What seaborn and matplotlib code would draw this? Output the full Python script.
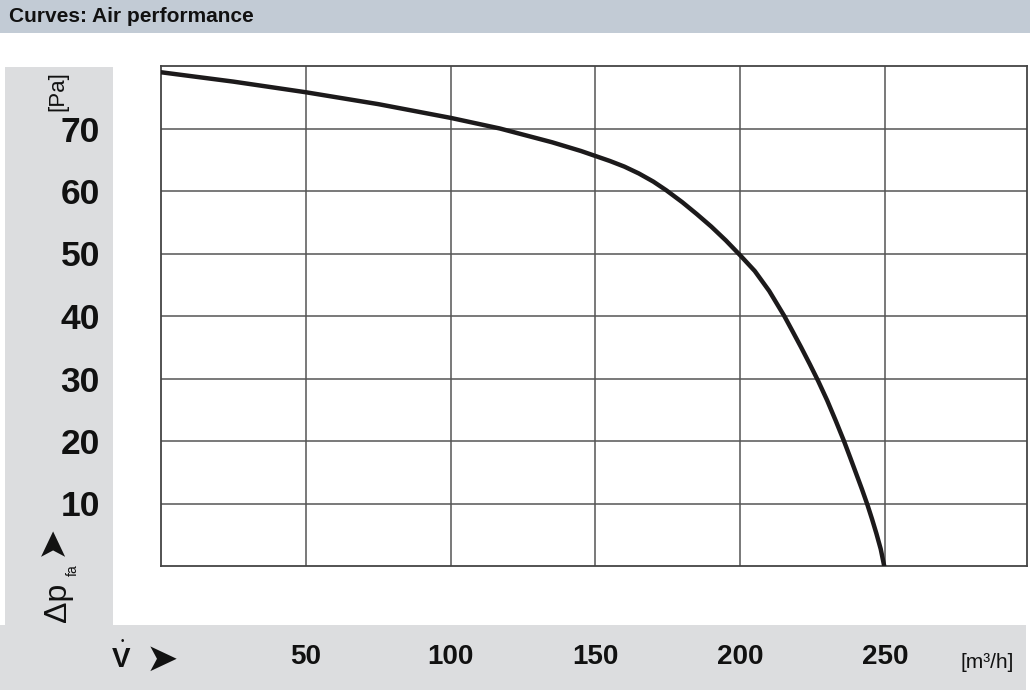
import matplotlib
matplotlib.use("Agg")
import matplotlib.pyplot as plt
import seaborn as sns
import pandas as pd
from matplotlib.patches import Rectangle

# values
flow = [0, 25, 50, 75, 100, 117, 135, 140, 145, 150, 155, 160, 165, 170, 174.5,
        180, 185, 190, 195, 200, 205, 210, 215.2, 218, 221, 224, 226.9, 230, 233,
        235.8, 238, 240, 242, 243.9, 245.5, 247, 248.5, 249.7]
pressure = [79.0, 77.5, 75.8, 73.9, 71.7, 70.0, 67.8, 67.1, 66.4, 65.6, 64.8, 63.9,
            62.8, 61.5, 60.1, 58.2, 56.3, 54.3, 52.1, 49.7, 47.2, 44.0, 40.0, 37.6,
            35.0, 32.3, 29.6, 26.5, 23.2, 20.0, 17.3, 14.8, 12.3, 9.8, 7.5, 5.2, 2.7, 0.0]
x_ticks = [50, 100, 150, 200, 250]
y_ticks = [10, 20, 30, 40, 50, 60, 70]
title = "Curves: Air performance"

W, H = 1030, 694

sns.set_theme(style="white")
plt.rcParams['font.family'] = ['Liberation Sans', 'DejaVu Sans']
plt.rcParams['text.color'] = '#111111'

fig = plt.figure(figsize=(W / 100, H / 100), dpi=100)
fig.patch.set_facecolor("white")


def fx(px):
    return px / W


def fy(py):
    return 1 - py / H


# background bands
for (x0, y0, x1, y1, c) in [(0, 0, 1030, 33, "#c2cbd5"),
                            (5, 67, 113, 690, "#dcdddf"),
                            (0, 625, 1026, 690, "#dcdddf")]:
    fig.patches.append(Rectangle((fx(x0), fy(y1)), fx(x1 - x0), (y1 - y0) / H,
                                 transform=fig.transFigure, facecolor=c,
                                 edgecolor="none", zorder=-10))

fig.text(fx(9), fy(17), title, fontsize=15, fontweight="bold", va="center", ha="left")

ax = fig.add_axes([fx(161), fy(566), fx(1027 - 161), (566 - 66) / H])
df = pd.DataFrame({"flow": flow, "pressure": pressure})
sns.lineplot(data=df, x="flow", y="pressure", sort=False, color="#1c1a1b",
             linewidth=3.2, ax=ax, zorder=3)

ax.set_xlim(0, 299)
ax.set_ylim(0, 80)
ax.set_xticks(x_ticks)
ax.set_yticks(y_ticks)
ax.set_xticklabels([str(v) for v in x_ticks], fontsize=20, fontweight="bold", color="#111111")
ax.set_yticklabels([str(v) for v in y_ticks], fontsize=25.5, fontweight="bold", color="#111111")
ax.tick_params(axis="x", length=0, pad=56)
ax.tick_params(axis="y", length=0, pad=44)
ax.grid(True, color="#555555", linewidth=1.1)
for s in ax.spines.values():
    s.set_color("#444444")
    s.set_linewidth(1.3)
ax.set_xlabel("")
ax.set_ylabel("")

# axis annotations
fig.text(fx(58), fy(91), "[Pa]", fontsize=16, rotation=90, ha="center", va="center")
fig.text(fx(58), fy(602), "\u0394p", fontsize=23, rotation=90, ha="center", va="center")
fig.text(fx(73), fy(570), "fa", fontsize=10, rotation=90, ha="center", va="center")
fig.text(fx(53), fy(540), "\u27a4", fontsize=27, rotation=90, ha="center", va="center",
         family="DejaVu Sans")
fig.text(fx(121), fy(660), "V", fontsize=20, fontweight="bold", ha="center", va="center")
fig.text(fx(122), fy(641), "\u2022", fontsize=7, ha="center", va="center")
fig.text(fx(162), fy(660), "\u27a4", fontsize=28, ha="center", va="center", family="DejaVu Sans")
fig.text(fx(987), fy(662), "[m\u00b3/h]", fontsize=15, ha="center", va="center")

fig.savefig("out.png", dpi=100)
